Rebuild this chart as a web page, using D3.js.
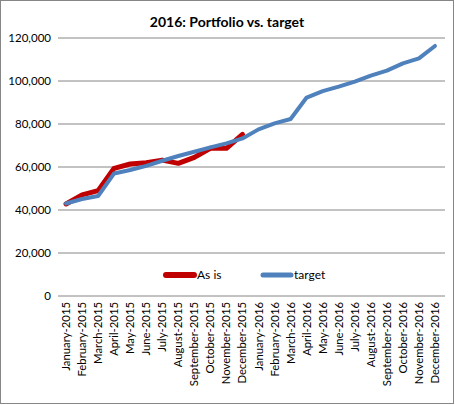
<!DOCTYPE html>
<html><head><meta charset="utf-8">
<script src="https://cdn.jsdelivr.net/npm/d3@7"></script>
<style>body{margin:0;background:#fff}svg{display:block}text{font-family:Lato,"Open Sans",sans-serif}</style>
</head><body><svg id="c" width="455" height="405"></svg>
<script>
const months = ["January","February","March","April","May","June","July","August","September","October","November","December"];
const categories = [...months.map(m=>m+"-2015"), ...months.map(m=>m+"-2016")];
const asIs = [42800,47000,49000,59400,61400,62000,63200,61700,64500,68700,68700,75200];
const target = [43000,45100,46500,57000,58600,60500,62900,65100,67100,69100,71000,73300,
                77500,80300,82300,92300,95300,97400,99700,102500,104800,108200,110500,116300];
const yTicks = [0,20000,40000,60000,80000,100000,120000];
const title = "2016: Portfolio vs. target";
const seriesNames = ["As is","target"];

const svg = d3.select("#c");
svg.append("rect").attr("x",0.5).attr("y",0.5).attr("width",453).attr("height",403)
  .attr("fill","#fff").attr("stroke","#868686");

const x = d3.scaleBand().domain(categories).range([58,443]);
const y = d3.scaleLinear().domain([0,120000]).range([296,38]);

svg.append("g").selectAll("line").data(yTicks).join("line")
  .attr("x1",58).attr("x2",445).attr("y1",d=>y(d)).attr("y2",d=>y(d))
  .attr("stroke","#868686").attr("stroke-width",1);

svg.append("g").selectAll("text").data(yTicks).join("text")
  .attr("x",51).attr("y",d=>y(d)).attr("dy","0.35em").attr("text-anchor","end")
  .attr("font-size",11.5).attr("fill","#000").text(d=>d3.format(",")(d));

svg.append("g").selectAll("text").data(categories).join("text")
  .attr("transform",d=>`translate(${x(d)+x.bandwidth()/2+4},302) rotate(-90)`)
  .attr("text-anchor","end").attr("font-size",11.3).attr("fill","#000").text(d=>d);

const line = d3.line().x((d,i)=>x(categories[i])+x.bandwidth()/2).y(d=>y(d));
svg.append("path").datum(asIs).attr("d",line).attr("fill","none")
  .attr("stroke","#C00000").attr("stroke-width",5).attr("stroke-linejoin","round").attr("stroke-linecap","round");
svg.append("path").datum(target).attr("d",line).attr("fill","none")
  .attr("stroke","#4F81BD").attr("stroke-width",4).attr("stroke-linejoin","round").attr("stroke-linecap","round");

svg.append("text").attr("x",227).attr("y",27).attr("text-anchor","middle")
  .attr("font-size",14).attr("font-weight","bold").text(title);

const leg = [{n:seriesNames[0],c:"#C00000",w:5,x:166},{n:seriesNames[1],c:"#4F81BD",w:4,x:263}];
leg.forEach(l=>{
  svg.append("line").attr("x1",l.x).attr("x2",l.x+28).attr("y1",275).attr("y2",275)
    .attr("stroke",l.c).attr("stroke-width",l.w+1).attr("stroke-linecap","round");
  svg.append("text").attr("x",l.x+31).attr("y",275).attr("dy","0.35em")
    .attr("font-size",12).text(l.n);
});
</script></body></html>
